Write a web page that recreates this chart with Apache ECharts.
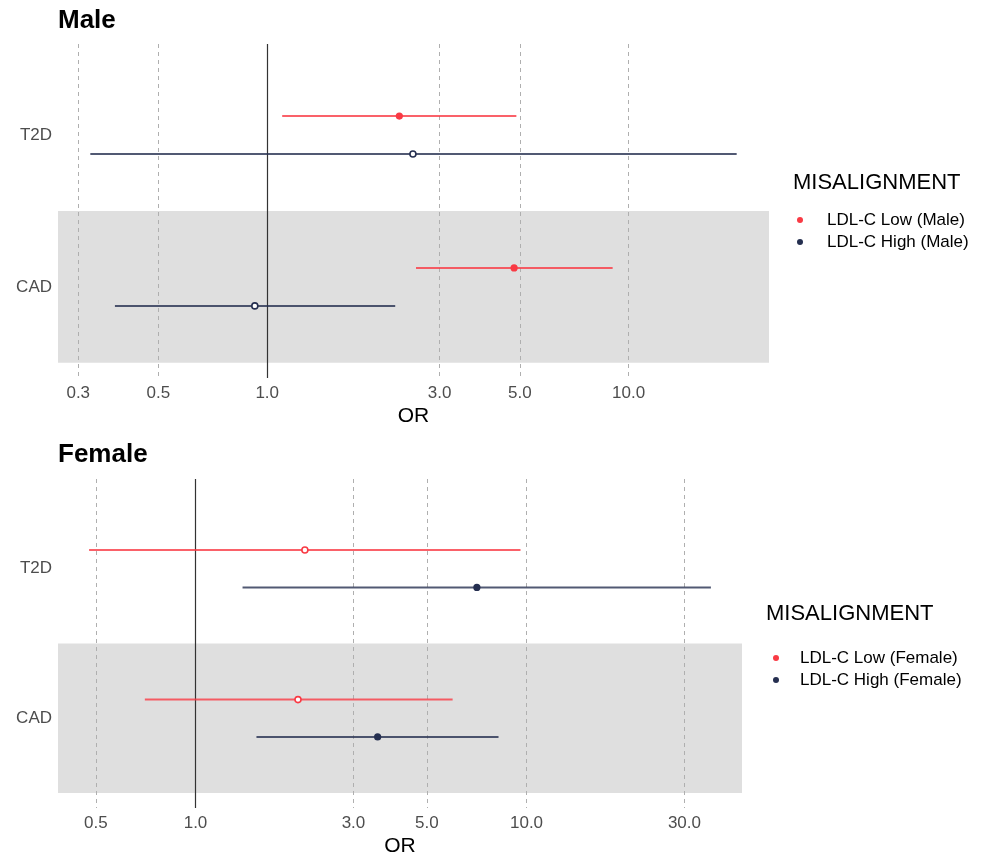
<!DOCTYPE html>
<html>
<head>
<meta charset="utf-8">
<script src="https://cdn.jsdelivr.net/npm/echarts@6/dist/echarts.min.js"></script>
<style>
  html, body { margin: 0; padding: 0; background: #fff; }
  #chart { width: 987px; height: 858px; }
</style>
</head>
<body>
<div id="chart"></div>
<script>
// Outcome rows, bottom to top on the y axis (CAD = 1, T2D = 2)
const categories = ['CAD', 'T2D'];

// Odds ratios with 95% CI, one entry per outcome (CAD, T2D)
const maleLowOR      = [4.82, 2.32];
const maleLowLower   = [2.58, 1.10];
const maleLowUpper   = [9.03, 4.89];
const maleHighOR     = [0.924, 2.53];
const maleHighLower  = [0.379, 0.324];
const maleHighUpper  = [2.26, 19.9];

const femaleLowOR     = [2.04, 2.14];
const femaleLowLower  = [0.703, 0.477];
const femaleLowUpper  = [5.98, 9.59];
const femaleHighOR    = [3.55, 7.08];
const femaleHighLower = [1.528, 1.387];
const femaleHighUpper = [8.23, 36.06];

// Tick labels on the OR axes
const maleTicks   = [0.3, 0.5, 1, 3, 5, 10];
const femaleTicks = [0.5, 1, 3, 5, 10, 30];

const seriesNames = {
  male:   ['LDL-C Low (Male)', 'LDL-C High (Male)'],
  female: ['LDL-C Low (Female)', 'LDL-C High (Female)']
};

const RED = '#F93A44';
const NAVY = '#252F50';
const FONT = '"Liberation Sans", Arial, sans-serif';

// [lower, OR, upper, y position, CI excludes 1]
function rows(or, lo, hi, dodge) {
  return categories.map((c, i) => [lo[i], or[i], hi[i], i + 1 + dodge, (lo[i] > 1 || hi[i] < 1) ? 1 : 0]);
}

// log-scale extent padded by 5% on each side
function logExtent(lowers, uppers) {
  const a = Math.log10(Math.min(...lowers));
  const b = Math.log10(Math.max(...uppers));
  const pad = (b - a) * 0.05;
  return [Math.pow(10, a - pad), Math.pow(10, b + pad)];
}

function renderItem(params, api) {
  const y = api.value(3);
  const lo = api.coord([api.value(0), y]);
  const hi = api.coord([api.value(2), y]);
  const pt = api.coord([api.value(1), y]);
  const filled = api.value(4) === 1;
  const color = api.visual('color');
  return {
    type: 'group',
    children: [
      { type: 'line', shape: { x1: lo[0], y1: lo[1], x2: hi[0], y2: hi[1] },
        style: { stroke: color, lineWidth: 2, opacity: 0.8 } },
      { type: 'circle', shape: { cx: pt[0], cy: pt[1], r: filled ? 3.6 : 3 },
        style: { fill: filled ? color : '#fff', stroke: color, lineWidth: filled ? 0 : 1.6 } }
    ]
  };
}

const maleExt = logExtent(maleLowLower.concat(maleHighLower), maleLowUpper.concat(maleHighUpper));
const femaleExt = logExtent(femaleLowLower.concat(femaleHighLower), femaleLowUpper.concat(femaleHighUpper));

const grids = [
  { left: 58, right: 218, top: 44, height: 334 },
  { left: 58, right: 245, top: 479, height: 334 }
];

function xAxis(idx, ext, ticks, nameGap) {
  return {
    type: 'log', gridIndex: idx, min: ext[0], max: ext[1], z: 3,
    name: 'OR', nameLocation: 'middle', nameGap: nameGap,
    nameTextStyle: { fontFamily: FONT, fontSize: 21, color: '#000' },
    axisLine: { show: false },
    axisTick: { show: false, customValues: ticks.filter(v => v !== 1) },
    axisLabel: {
      customValues: ticks, margin: 7, fontFamily: FONT, fontSize: 17, color: '#4D4D4D',
      formatter: v => Number(v).toFixed(1)
    },
    splitLine: { show: true, lineStyle: { color: '#AFAFAF', width: 1, type: [4, 4] } }
  };
}

function yAxis(idx) {
  return {
    type: 'value', gridIndex: idx, min: 0.4, max: 2.6, interval: 0.2,
    axisLine: { show: false }, axisTick: { show: false }, splitLine: { show: false },
    axisLabel: {
      margin: 6, fontFamily: FONT, fontSize: 17, color: '#4D4D4D',
      showMinLabel: true, showMaxLabel: true,
      formatter: v => {
        const k = Math.round(v);
        return Math.abs(v - k) < 1e-6 && k >= 1 && k <= categories.length ? categories[k - 1] : '';
      }
    }
  };
}

function panelSeries(idx, names, low, high) {
  return [
    { type: 'line', data: [], xAxisIndex: idx, yAxisIndex: idx, z: 1, silent: true,
      markArea: { silent: true, itemStyle: { color: '#DFDFDF' }, data: [[{ yAxis: 0.5 }, { yAxis: 1.5 }]] } },
    { type: 'line', data: [], xAxisIndex: idx, yAxisIndex: idx, z: 4, silent: true,
      markLine: { silent: true, symbol: ['none', 'none'], label: { show: false },
        lineStyle: { color: '#333', width: 1.2, type: 'solid' }, data: [{ xAxis: 1 }] } },
    { type: 'custom', name: names[0], xAxisIndex: idx, yAxisIndex: idx, z: 5,
      itemStyle: { color: RED }, encode: { x: [0, 1, 2], y: 3 }, renderItem, data: low },
    { type: 'custom', name: names[1], xAxisIndex: idx, yAxisIndex: idx, z: 5,
      itemStyle: { color: NAVY }, encode: { x: [0, 1, 2], y: 3 }, renderItem, data: high }
  ];
}

function legend(names, left, top, pad) {
  return {
    data: names, orient: 'vertical', left: left, top: top, padding: 0,
    icon: 'circle', itemWidth: 6, itemHeight: 6, itemGap: 4,
    selectedMode: false,
    textStyle: { fontFamily: FONT, fontSize: 17, color: '#000', lineHeight: 18, padding: [0, 0, 0, pad] }
  };
}

function heading(text, left, top, size, weight) {
  return { text, left, top, padding: 0,
    textStyle: { fontFamily: FONT, fontSize: size, fontWeight: weight, color: '#000', lineHeight: size } };
}

const chart = echarts.init(document.getElementById('chart'), null, { renderer: 'canvas' });
chart.setOption({
  backgroundColor: '#fff',
  animation: false,
  title: [
    heading('Male', 58, 8, 26, 'bold'),
    heading('Female', 58, 442, 26, 'bold'),
    heading('MISALIGNMENT', 793, 172, 22, 'normal'),
    heading('MISALIGNMENT', 766, 603, 22, 'normal')
  ],
  legend: [
    legend(seriesNames.male, 797, 211, 19),
    legend(seriesNames.female, 773, 649, 16)
  ],
  grid: grids,
  xAxis: [xAxis(0, maleExt, maleTicks, 28), xAxis(1, femaleExt, femaleTicks, 28)],
  yAxis: [yAxis(0), yAxis(1)],
  series: [].concat(
    panelSeries(0, seriesNames.male,
      rows(maleLowOR, maleLowLower, maleLowUpper, 0.125),
      rows(maleHighOR, maleHighLower, maleHighUpper, -0.125)),
    panelSeries(1, seriesNames.female,
      rows(femaleLowOR, femaleLowLower, femaleLowUpper, 0.125),
      rows(femaleHighOR, femaleHighLower, femaleHighUpper, -0.125))
  )
});
</script>
</body>
</html>
